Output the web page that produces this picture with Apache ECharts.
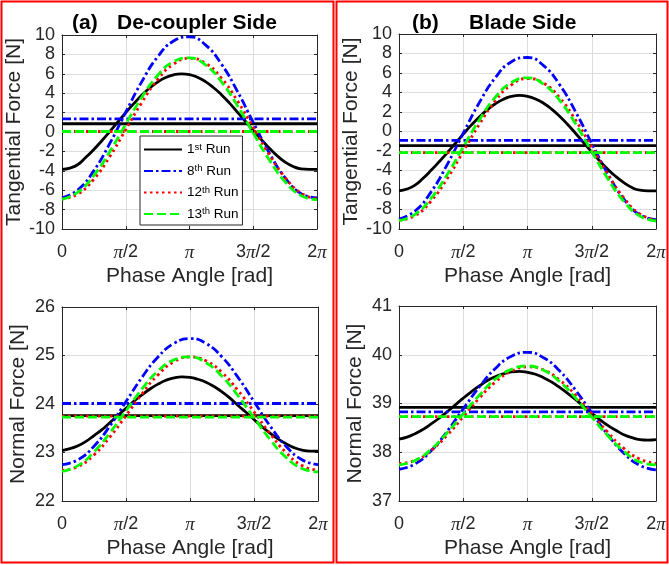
<!DOCTYPE html>
<html><head><meta charset="utf-8">
<script src="https://cdn.jsdelivr.net/npm/echarts@6/dist/echarts.min.js"></script>
<style>html,body{margin:0;padding:0;background:#fff}#c{width:669px;height:565px}</style>
</head><body><div id="c"></div>
<script>
// phase in units of pi (coarse: pi/8 steps, fine: pi/16 steps for the 1st-run curves)
const phase = [0,0.125,0.25,0.375,0.5,0.625,0.75,0.875,1,1.125,1.25,1.375,1.5,1.625,1.75,1.875,2];
const phaseFine = [0,0.0625,0.125,0.1875,0.25,0.3125,0.375,0.4375,0.5,0.5625,0.625,0.6875,0.75,0.8125,0.875,0.9375,
                   1,1.0625,1.125,1.1875,1.25,1.3125,1.375,1.4375,1.5,1.5625,1.625,1.6875,1.75,1.8125,1.875,1.9375,2];
const xTickLabels = ['0','{p|\u03c0}/2','{p|\u03c0}','3{p|\u03c0}/2','2{p|\u03c0}'];
const runNames = ['1st Run','8th Run','12th Run','13th Run'];
const runNumbers = ['1','8','12','13'];
const runSuffix = ['st','th','th','th'];

// (a) De-coupler side, tangential force [N]
const tanA_run1  = [-3.85,-3.72,-3.35,-2.6,-1.8,-0.9,0.05,1.04,2.0,2.92,3.8,4.53,5.15,5.61,5.9,6.0,5.92,5.64,5.2,4.59,3.85,3.0,2.05,1.11,0.15,-0.77,-1.65,-2.45,-3.1,-3.55,-3.8,-3.85,-3.85];
const tanA_run8  = [-6.8,-5.95,-3.98,-1.18,2.04,5.17,7.75,9.38,9.81,8.98,7.01,4.21,0.99,-2.14,-4.72,-6.35,-6.8];
const tanA_run12 = [-6.9,-6.39,-4.86,-2.53,0.24,3.02,5.40,7.00,7.60,7.09,5.56,3.23,0.46,-2.32,-4.70,-6.30,-6.92];
const tanA_run13 = [-6.94,-6.21,-4.48,-2.02,0.81,3.56,5.83,7.26,7.64,6.91,5.18,2.72,-0.11,-2.86,-5.13,-6.56,-6.98];
const tanA_means = [0.85,1.35,0.05,0.05];

// (b) Blade side, tangential force [N]
const tanB_run1  = [-6.08,-5.9,-5.5,-4.8,-3.98,-3.1,-2.18,-1.23,-0.27,0.65,1.49,2.24,2.85,3.31,3.6,3.7,3.61,3.34,2.9,2.3,1.56,0.72,-0.2,-1.15,-2.11,-3.03,-3.87,-4.62,-5.25,-5.75,-6.02,-6.08,-6.08];
const tanB_run8  = [-8.98,-8.15,-6.19,-3.39,-0.17,2.96,5.53,7.16,7.59,6.76,4.80,2.00,-1.22,-4.35,-6.93,-8.55,-9.03];
const tanB_run12 = [-9.1,-8.63,-7.13,-4.83,-2.06,0.73,3.14,4.79,5.43,4.96,3.46,1.16,-1.61,-4.40,-6.81,-8.46,-9.1];
const tanB_run13 = [-9.15,-8.5,-6.84,-4.41,-1.6,1.19,3.52,5.03,5.5,4.85,3.19,0.76,-2.06,-4.84,-7.16,-8.68,-9.18];
const tanB_means = [-1.45,-0.9,-2.16,-2.16];

// (a) De-coupler side, normal force [N]
const normA_run1  = [23.04,23.08,23.14,23.23,23.35,23.47,23.62,23.77,23.91,24.06,24.19,24.31,24.41,24.49,24.54,24.56,24.55,24.51,24.45,24.36,24.25,24.12,23.97,23.83,23.68,23.53,23.40,23.28,23.18,23.10,23.05,23.03,23.03];
const normA_run8  = [22.75,22.85,23.13,23.55,24.05,24.55,24.97,25.25,25.35,25.25,24.97,24.55,24.05,23.55,23.13,22.85,22.75];
const normA_run12 = [22.63,22.71,22.95,23.32,23.76,24.21,24.60,24.87,24.97,24.89,24.65,24.28,23.84,23.39,23.00,22.73,22.63];
const normA_run13 = [22.61,22.73,23.01,23.41,23.86,24.31,24.68,24.91,24.97,24.85,24.57,24.17,23.72,23.27,22.90,22.67,22.60];
const normA_means = [23.76,24.01,23.75,23.73];

// (b) Blade side, normal force [N]
const normB_run1  = [38.27,38.31,38.38,38.47,38.58,38.70,38.83,38.97,39.11,39.24,39.36,39.47,39.55,39.61,39.65,39.66,39.64,39.60,39.53,39.44,39.33,39.21,39.08,38.94,38.80,38.67,38.55,38.45,38.36,38.30,38.26,38.25,38.26];
const normB_run8  = [37.65,37.76,38.03,38.43,38.89,39.34,39.72,39.97,40.05,39.94,39.67,39.27,38.81,38.36,37.98,37.73,37.64];
const normB_run12 = [37.77,37.83,38.04,38.35,38.73,39.11,39.44,39.66,39.75,39.69,39.48,39.17,38.79,38.41,38.08,37.86,37.77];
const normB_run13 = [37.74,37.83,38.06,38.40,38.79,39.17,39.50,39.70,39.77,39.68,39.45,39.11,38.72,38.34,38.02,37.80,37.74];
const normB_means = [38.92,38.83,38.73,38.73];

const runPhases = [phaseFine, phase, phase, phase];

const panels = [
  {grid:{left:62,top:35,width:255,height:194}, y:[-10,10,2], yName:'Tangential Force [N]',
   runs:[tanA_run1,tanA_run8,tanA_run12,tanA_run13], means:tanA_means},
  {grid:{left:399,top:34,width:257,height:195}, y:[-10,10,2], yName:'Tangential Force [N]',
   runs:[tanB_run1,tanB_run8,tanB_run12,tanB_run13], means:tanB_means},
  {grid:{left:62,top:307,width:256,height:194}, y:[22,26,1], yName:'Normal Force [N]',
   runs:[normA_run1,normA_run8,normA_run12,normA_run13], means:normA_means},
  {grid:{left:399,top:306,width:257,height:195}, y:[37,41,1], yName:'Normal Force [N]',
   runs:[normB_run1,normB_run8,normB_run12,normB_run13], means:normB_means}
];

const styles = [
  {color:'#000000', type:'solid'},
  {color:'#0000FF', type:[9,3,2.5,3]},
  {color:'#FF0000', type:[2.5,3.5]},
  {color:'#00FF00', type:[9,4]}
];

const AX = '#262626', GRIDC = '#dedede', FONT = 'Liberation Sans, Arial, sans-serif';
const SERIF = 'Liberation Serif, Times New Roman, serif';
const grids = [], xAxes = [], yAxes = [], series = [];
panels.forEach((p, i) => {
  grids.push(Object.assign({containLabel:false}, p.grid));
  xAxes.push({type:'value', gridIndex:i, min:0, max:2, interval:0.5,
    name:'Phase Angle [rad]', nameLocation:'middle', nameGap:37,
    nameTextStyle:{fontSize:21, color:AX, fontFamily:FONT},
    axisLine:{onZero:false, lineStyle:{color:AX, width:1}},
    axisTick:{inside:true, length:3, lineStyle:{color:AX}},
    axisLabel:{fontSize:18, color:AX, fontFamily:FONT, margin:14,
      rich:{p:{fontSize:19, color:AX, fontFamily:SERIF, fontStyle:'italic'}},
      formatter: v => xTickLabels[Math.round(v/0.5)]},
    splitLine:{show:true, lineStyle:{color:GRIDC, width:1}}});
  xAxes.push({type:'value', gridIndex:i, min:0, max:2, interval:0.5, position:'top',
    axisLine:{onZero:false, lineStyle:{color:AX, width:1}},
    axisTick:{inside:true, length:3, lineStyle:{color:AX}},
    axisLabel:{show:false}, splitLine:{show:false}});
  yAxes.push({type:'value', gridIndex:i, min:p.y[0], max:p.y[1], interval:p.y[2],
    name:p.yName, nameLocation:'middle', nameGap:33, nameRotate:90,
    nameTextStyle:{fontSize:21, color:AX, fontFamily:FONT},
    axisLine:{show:true, onZero:false, lineStyle:{color:AX, width:1}},
    axisTick:{show:true, inside:true, length:3, lineStyle:{color:AX}},
    axisLabel:{fontSize:18, color:AX, fontFamily:FONT, margin:7},
    splitLine:{show:true, lineStyle:{color:GRIDC, width:1}}});
  yAxes.push({type:'value', gridIndex:i, min:p.y[0], max:p.y[1], interval:p.y[2], position:'right',
    axisLine:{show:true, onZero:false, lineStyle:{color:AX, width:1}},
    axisTick:{show:true, inside:true, length:3, lineStyle:{color:AX}},
    axisLabel:{show:false}, splitLine:{show:false}});
  p.runs.forEach((vals, r) => {
    const ls = {color:styles[r].color, type:styles[r].type, width:2.8, cap:'butt'};
    const xs = runPhases[r];
    series.push({name:runNames[r], type:'line', xAxisIndex:2*i, yAxisIndex:2*i,
      data: xs.map((x, k) => [x, vals[k]]), smooth:true, symbol:'none',
      lineStyle:ls, itemStyle:{color:styles[r].color}, silent:true, animation:false});
    series.push({name:runNames[r], type:'line', xAxisIndex:2*i, yAxisIndex:2*i,
      data: [[0, p.means[r]], [2, p.means[r]]], symbol:'none',
      lineStyle:ls, itemStyle:{color:styles[r].color}, silent:true, animation:false});
  });
});

const titleStyle = {fontSize:21, fontWeight:'bold', color:'#000', fontFamily:FONT};
const option = {
  animation:false,
  backgroundColor:'#fff',
  title:[
    {text:'(a)', left:67, top:8, textStyle:titleStyle},
    {text:'De-coupler Side', left:112, top:8, textStyle:titleStyle},
    {text:'(b)', left:407, top:8, textStyle:titleStyle},
    {text:'Blade Side', left:464, top:8, textStyle:titleStyle}
  ],
  legend:{data:runNames, orient:'vertical', left:140, top:136,
    backgroundColor:'#fff', borderColor:AX, borderWidth:1, borderRadius:0,
    padding:[6,4,4,3], itemGap:7, itemWidth:38, itemHeight:14,
    selectedMode:false,
    itemStyle:{opacity:0},
    formatter: name => { const r = runNames.indexOf(name);
      return '{n|' + runNumbers[r] + '}{s|' + runSuffix[r] + '}{n| Run}'; },
    textStyle:{color:'#000', fontFamily:FONT, fontSize:13,
      rich:{n:{fontSize:13.5, fontFamily:FONT, color:'#000', lineHeight:15},
            s:{fontSize:9.5, fontFamily:FONT, color:'#000', verticalAlign:'top', lineHeight:15}}}},
  grid:grids, xAxis:xAxes, yAxis:yAxes, series:series,
  graphic:[
    {type:'rect', shape:{x:1.5, y:1.5, width:332, height:561}, style:{fill:'none', stroke:'#ff0000', lineWidth:2}, z:100},
    {type:'rect', shape:{x:336.5, y:1.5, width:331, height:561}, style:{fill:'none', stroke:'#ff0000', lineWidth:2}, z:100}
  ]
};
const chart = echarts.init(document.getElementById('c'), null, {renderer:'canvas'});
chart.setOption(option);
</script></body></html>
